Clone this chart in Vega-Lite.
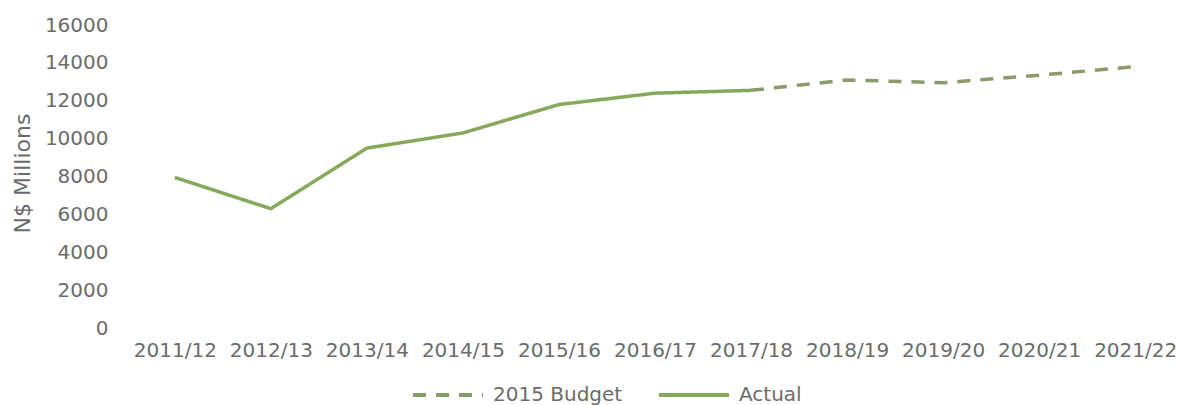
{
  "$schema": "https://vega.github.io/schema/vega-lite/v6.json",
  "autosize": {"type": "none"},
  "padding": {"left": 146, "top": 25, "right": 13, "bottom": 77},
  "width": 1018,
  "height": 303,
  "background": "white",
  "config": {
    "view": {"stroke": null},
    "font": "DejaVu Sans"
  },
  "data": {
    "values": [
      {"year": "2011/12", "series": "Actual", "value": 7950},
      {"year": "2012/13", "series": "Actual", "value": 6300},
      {"year": "2013/14", "series": "Actual", "value": 9500},
      {"year": "2014/15", "series": "Actual", "value": 10300},
      {"year": "2015/16", "series": "Actual", "value": 11800},
      {"year": "2016/17", "series": "Actual", "value": 12400},
      {"year": "2017/18", "series": "Actual", "value": 12550},
      {"year": "2017/18", "series": "2015 Budget", "value": 12550},
      {"year": "2018/19", "series": "2015 Budget", "value": 13100},
      {"year": "2019/20", "series": "2015 Budget", "value": 12950},
      {"year": "2020/21", "series": "2015 Budget", "value": 13350},
      {"year": "2021/22", "series": "2015 Budget", "value": 13800}
    ]
  },
  "mark": {"type": "line", "strokeWidth": 3.5, "strokeCap": "butt"},
  "encoding": {
    "x": {
      "field": "year",
      "type": "ordinal",
      "scale": {"type": "point", "padding": 0.3},
      "sort": ["2011/12","2012/13","2013/14","2014/15","2015/16","2016/17","2017/18","2018/19","2019/20","2020/21","2021/22"],
      "axis": {
        "title": null,
        "domain": false,
        "ticks": false,
        "grid": false,
        "labelAngle": 0,
        "labelFontSize": 20,
        "labelColor": "#6b6b6b",
        "labelPadding": 12,
        "labelDx": 3,
        "labelOverlap": false,
        "labelFlush": false
      }
    },
    "y": {
      "field": "value",
      "type": "quantitative",
      "scale": {"domain": [0, 16000], "nice": false},
      "axis": {
        "values": [0, 2000, 4000, 6000, 8000, 10000, 12000, 14000, 16000],
        "format": "d",
        "title": "N$ Millions",
        "titleFontSize": 22,
        "titleFontWeight": "normal",
        "titleColor": "#6b6b6b",
        "titleAngle": -90,
        "titleAlign": "center",
        "titleBaseline": "middle",
        "titleX": -124,
        "titleY": 148,
        "domain": false,
        "ticks": false,
        "grid": false,
        "labelFontSize": 20,
        "labelColor": "#6b6b6b",
        "labelPadding": 38
      }
    },
    "color": {
      "field": "series",
      "type": "nominal",
      "scale": {"domain": ["2015 Budget", "Actual"], "range": ["#889c6a", "#86a85a"]},
      "legend": {
        "title": null,
        "orient": "none",
        "direction": "horizontal",
        "legendX": 265,
        "legendY": 333,
        "symbolType": "stroke",
        "symbolSize": 4900,
        "symbolStrokeWidth": 4,
        "labelFontSize": 20,
        "labelColor": "#6b6b6b",
        "labelOffset": 8,
        "columnPadding": 28
      }
    },
    "strokeDash": {
      "field": "series",
      "type": "nominal",
      "scale": {"domain": ["2015 Budget", "Actual"], "range": [[13, 10], [1, 0]]},
      "legend": null
    }
  }
}
